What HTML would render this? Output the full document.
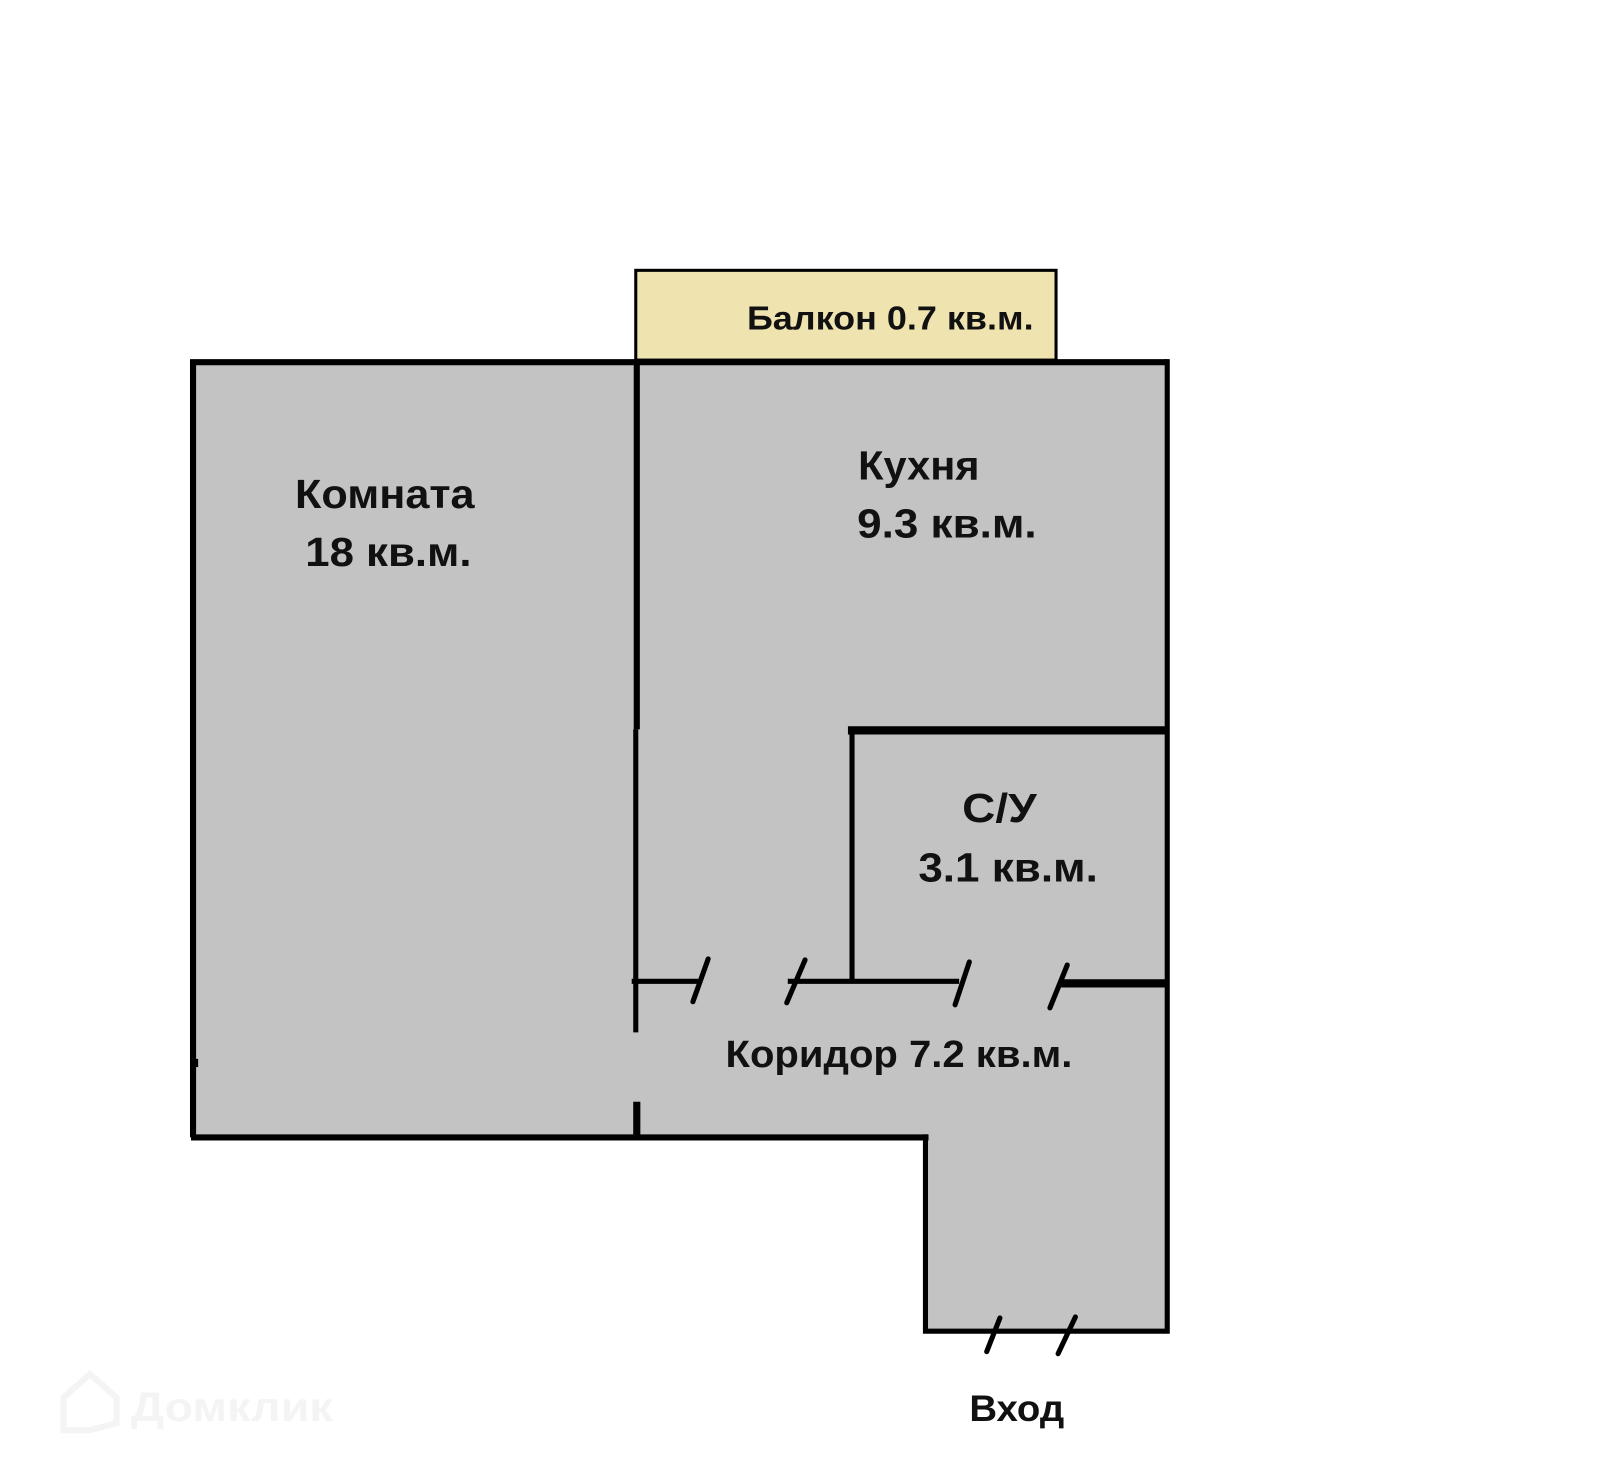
<!DOCTYPE html>
<html><head><meta charset="utf-8"><style>
html,body{margin:0;padding:0;background:#fff;}
svg{display:block;}
text{font-family:"Liberation Sans",sans-serif;font-weight:bold;fill:#111;}
</style></head><body>
<svg width="1600" height="1472" viewBox="0 0 1568 1443" xmlns="http://www.w3.org/2000/svg">
<rect width="1568" height="1443" fill="#fff"/>
<!-- balcony -->
<rect x="623" y="265" width="412" height="88" fill="#efe3b0" stroke="#000" stroke-width="3"/>
<!-- gray fill -->
<polygon points="189,355 1144,355 1144,1305 907,1305 907,1115 189,1115" fill="#c3c3c3"/>
<g stroke="#000" fill="none" stroke-linecap="butt">
<!-- outer -->
<polyline points="189,1115 189,355 1144,355" stroke-width="6"/>
<polyline points="1144,352 1144,1305 907,1305 907,1112" stroke-width="5"/>
<line x1="187" y1="1115" x2="910" y2="1115" stroke-width="6"/>
<line x1="192" y1="1038" x2="192" y2="1046" stroke-width="4"/>
<!-- partition room/kitchen -->
<line x1="624" y1="352" x2="624" y2="715" stroke-width="6"/>
<line x1="623" y1="715" x2="623" y2="1012" stroke-width="5"/>
<line x1="624" y1="1080" x2="624" y2="1114" stroke-width="7"/>
<!-- WC -->
<line x1="831" y1="716" x2="1146" y2="716" stroke-width="8"/>
<line x1="835" y1="716" x2="835" y2="962" stroke-width="5"/>
<!-- corridor wall with doors -->
<line x1="619" y1="962" x2="684" y2="962" stroke-width="5"/>
<line x1="772" y1="962" x2="940" y2="962" stroke-width="5"/>
<line x1="1040" y1="964" x2="1146" y2="964" stroke-width="8"/>
<g stroke-width="5" stroke-linecap="round">
<line x1="694" y1="940" x2="679" y2="982"/>
<line x1="789" y1="941" x2="771" y2="983"/>
<line x1="950" y1="943" x2="936" y2="985"/>
<line x1="1046" y1="946" x2="1029" y2="988"/>
<line x1="980" y1="1292" x2="967" y2="1325"/>
<line x1="1054" y1="1291" x2="1037" y2="1327"/>
</g>
</g>
<text x="732" y="323" font-size="33" textLength="281" lengthAdjust="spacingAndGlyphs">Балкон 0.7 кв.м.</text>
<text x="289" y="498" font-size="40" textLength="176" lengthAdjust="spacingAndGlyphs">Комната</text>
<text x="299" y="555" font-size="40" textLength="163" lengthAdjust="spacingAndGlyphs">18 кв.м.</text>
<text x="841" y="470" font-size="40" textLength="119" lengthAdjust="spacingAndGlyphs">Кухня</text>
<text x="840" y="527" font-size="40" textLength="176" lengthAdjust="spacingAndGlyphs">9.3 кв.м.</text>
<text x="943" y="806" font-size="40" textLength="73" lengthAdjust="spacingAndGlyphs">С/У</text>
<text x="900" y="864" font-size="40" textLength="176" lengthAdjust="spacingAndGlyphs">3.1 кв.м.</text>
<text x="711" y="1046" font-size="37" textLength="340" lengthAdjust="spacingAndGlyphs">Коридор 7.2 кв.м.</text>
<text x="950" y="1393" font-size="36" textLength="93" lengthAdjust="spacingAndGlyphs">Вход</text>
<text x="128" y="1393" font-size="40" fill="#f3f3f3" style="fill:#f4f4f4" textLength="198" lengthAdjust="spacingAndGlyphs">Домклик</text>
<path d="M62,1370 L88,1347 L114,1370 L114,1395 L88,1402 L62,1402 Z" fill="none" stroke="#f4f4f4" stroke-width="6"/>
</svg>
</body></html>
